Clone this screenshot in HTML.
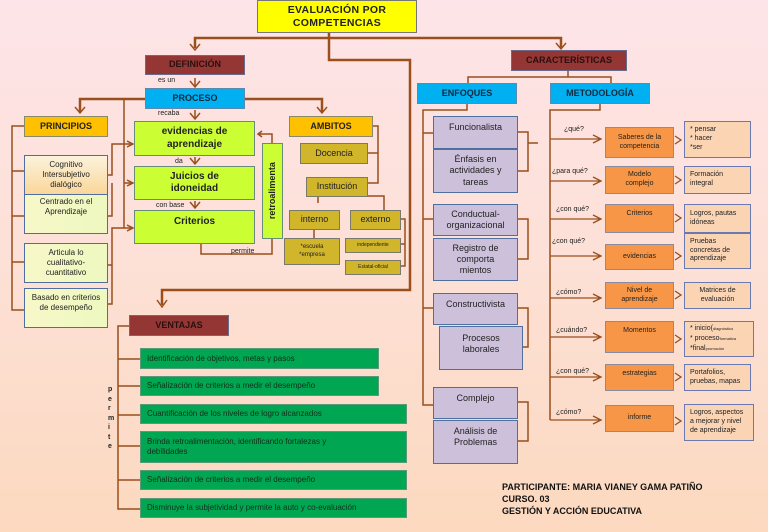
<!DOCTYPE html>
<html><head><meta charset="utf-8"><style>
*{margin:0;padding:0;box-sizing:border-box}
body{width:768px;height:532px;overflow:hidden;position:relative;background:linear-gradient(#fde4e8,#fde0d6 50%,#fcd9bf);font-family:"Liberation Sans",sans-serif;color:#222}
.b{position:absolute;display:flex;align-items:center;justify-content:center;text-align:center;line-height:1.25}
.t{position:absolute;font-size:7px;white-space:nowrap}
.dr{background:#943634;border:1px solid #6a6a8a;font-size:9px;font-weight:bold;color:#2a1010}
.bl{background:#00b0f0;border:1px solid #5a8ab0;font-size:9px;font-weight:bold;color:#102a40}
.yo{background:#ffc000;border:1px solid #8a8a6a;font-size:9px;font-weight:bold}
.li{background:#ccff33;border:1px solid #6a8a7a;font-size:10px;font-weight:bold}
.gd{background:#d1b52a;border:1px solid #7a7a6a;font-size:9px}
.pr{background:linear-gradient(90deg,#f7f8c8,#eef8c0);border:1px solid #4f6fa0;font-size:8px}
.lv{background:#ccc0da;border:1px solid #4f6fa0;font-size:9px}
.or{background:#f79646;border:1px solid #8a8aa0;font-size:7px;align-items:flex-start;padding-top:5px}
.pe{background:#fbd4b4;border:1px solid #6a7ab0;font-size:7px;justify-content:flex-start;text-align:left;padding-left:5px}
.gr{background:#00a651;border:1px solid #5a9a7a;font-size:8px;justify-content:flex-start;text-align:left;padding-left:6px;color:#10301a}
</style></head><body>
<svg width="768" height="532" style="position:absolute;left:0;top:0" fill="none">
<g stroke="#9a4f1c" stroke-width="2.5">
<path d="M195,48 V38 H420 M561,48 V38 H418"/>
<path d="M329,33 V60 H410 V290 H162 V305"/>
<path d="M145,99 H80 V112 M245,99 H322 V112"/>
</g>
<g stroke="#9a4f1c" stroke-width="1.5">
<path d="M190,44 L195,50 L200,44 M556,43 L561,49 L566,43 M157,300 L162,307 L167,300 M75,107 L80,113 L85,107 M317,107 L322,113 L327,107"/>
<path d="M195,78 V86 M190,81 L195,87 L200,81 M195,110 V119 M190,113 L195,119 L200,113 M195,157 V164 M190,158 L195,164 L200,158 M195,201 V208 M190,202 L195,208 L200,202"/>
<path d="M124,99 V228 M124,144 H132 M127,141 L133,144 L127,147 M124,183 H132 M127,180 L133,183 L127,186 M124,228 H132 M127,225 L133,228 L127,231"/>
<path d="M108,175 H112 V144 H124 M108,216 H112 V183 M108,265 H112 V228 H124 M108,304 H112 V228"/>
<path d="M24,126 H12 V310 H24 M12,171 H24 M12,216 H24 M12,262 H24"/>
<path d="M272,238 V254 H201 V243 M272,143 V134 H258 M262,131 L258,134 L262,137"/>
<path d="M372,126 H378 V183 H367 M378,153 H367 M318,196 V203 M339,196 H384 V210 M314,229 V238 M400,219 H405 V266 H400 M400,244 H405"/>
<path d="M129,326 H118 V509 H140 M118,359 H140 M118,386 H140 M118,415 H140 M118,446 H140 M118,480 H140"/>
<path d="M568,70 V77 M468,83 V77 H611 V83"/>
<path d="M467,103 V110 H423 V405 H433 M423,133 H433 M423,219 H433 M423,308 H433"/>
<path d="M517,132 H528 V171 H517 M528,143 H538 M517,219 H528 V259 H517 M517,308 H528 V347 H522 M517,402 H528 V441 H517"/>
<path d="M600,103 V110 H550 V420"/>
</g>
<g stroke="#9a4f1c" stroke-width="1.3">
<path d="M550,139 H600 M593,135 L601,139 L593,143 M550,181 H600 M593,177 L601,181 L593,185 M550,219 H600 M593,215 L601,219 L593,223 M550,256 H600 M593,252 L601,256 L593,260 M550,298 H600 M593,294 L601,298 L593,302 M550,337 H600 M593,333 L601,337 L593,341 M550,377 H600 M593,373 L601,377 L593,381 M550,420 H600 M593,416 L601,420 L593,424"/>
<path d="M675,136 L681,140 L675,144 M675,176 L681,180 L675,184 M675,214 L681,218 L675,222 M675,252 L681,256 L675,260 M675,291 L681,295 L675,299 M675,335 L681,339 L675,343 M675,373 L681,377 L675,381 M675,417 L681,421 L675,425"/>
</g>
</svg>
<div class="b" style="left:257px;top:0;width:160px;height:33px;background:#ffff00;border:1px solid #777;font-size:10.5px;font-weight:bold;line-height:1.15;letter-spacing:0.3px">EVALUACIÓN POR<br>COMPETENCIAS</div>
<div class="b dr" style="left:145px;top:55px;width:100px;height:20px">DEFINICIÓN</div>
<div class="t" style="left:158px;top:77px">es un</div>
<div class="b bl" style="left:145px;top:88px;width:100px;height:21px">PROCESO</div>
<div class="t" style="left:158px;top:110px">recaba</div>
<div class="b yo" style="left:24px;top:116px;width:84px;height:21px">PRINCIPIOS</div>
<div class="b yo" style="left:289px;top:116px;width:84px;height:21px">AMBITOS</div>
<div class="b li" style="left:134px;top:121px;width:121px;height:35px">evidencias de<br>aprendizaje</div>
<div class="t" style="left:175px;top:158px">da</div>
<div class="b li" style="left:134px;top:166px;width:121px;height:34px">Juicios de<br>idoneidad</div>
<div class="t" style="left:156px;top:202px">con base</div>
<div class="b li" style="left:134px;top:210px;width:121px;height:34px;align-items:flex-start;padding-top:5px">Criterios</div>
<div class="t" style="left:231px;top:248px">permite</div>
<div class="b li" style="left:262px;top:143px;width:21px;height:96px"><span style="transform:rotate(-90deg);white-space:nowrap;font-size:9px">retroalimenta</span></div>
<div class="b pr" style="left:24px;top:155px;width:84px;height:40px;background:linear-gradient(#fbf3dc,#fbd69a)">Cognitivo<br>Intersubjetivo<br>dialógico</div>
<div class="b pr" style="left:24px;top:194px;width:84px;height:40px;align-items:flex-start;padding-top:2px">Centrado en el<br>Aprendizaje</div>
<div class="b pr" style="left:24px;top:243px;width:84px;height:40px">Articula lo<br>cualitativo-<br>cuantitativo</div>
<div class="b pr" style="left:24px;top:288px;width:84px;height:40px;align-items:flex-start;padding-top:4px">Basado en criterios<br>de desempeño</div>
<div class="b gd" style="left:300px;top:143px;width:68px;height:21px">Docencia</div>
<div class="b gd" style="left:306px;top:177px;width:62px;height:20px">Institución</div>
<div class="b gd" style="left:289px;top:210px;width:51px;height:20px">interno</div>
<div class="b gd" style="left:350px;top:210px;width:51px;height:20px">externo</div>
<div class="b gd" style="left:284px;top:238px;width:56px;height:27px;font-size:6px">*escuela<br>*empresa</div>
<div class="b gd" style="left:345px;top:238px;width:56px;height:15px;font-size:5px">independiente</div>
<div class="b gd" style="left:345px;top:260px;width:56px;height:15px;font-size:5px">Estatal-oficial</div>
<div class="b dr" style="left:129px;top:315px;width:100px;height:21px">VENTAJAS</div>
<div class="t" style="left:108px;top:385px;font-size:7px;font-weight:bold;line-height:9.5px;white-space:normal;width:6px">p e r m i t e</div>
<div class="b gr" style="left:140px;top:348px;width:239px;height:21px">Identificación de objetivos, metas y pasos</div>
<div class="b gr" style="left:140px;top:376px;width:239px;height:20px">Señalización de criterios a medir el desempeño</div>
<div class="b gr" style="left:140px;top:404px;width:267px;height:20px">Cuantificación de los niveles de logro alcanzados</div>
<div class="b gr" style="left:140px;top:431px;width:267px;height:32px">Brinda retroalimentación, identificando fortalezas y<br>debilidades</div>
<div class="b gr" style="left:140px;top:470px;width:267px;height:20px">Señalización de criterios a medir el desempeño</div>
<div class="b gr" style="left:140px;top:498px;width:267px;height:20px">Disminuye la subjetividad y permite la auto y co-evaluación</div>
<div class="b dr" style="left:511px;top:50px;width:116px;height:21px">CARACTERÍSTICAS</div>
<div class="b bl" style="left:417px;top:83px;width:100px;height:21px">ENFOQUES</div>
<div class="b bl" style="left:550px;top:83px;width:100px;height:21px">METODOLOGÍA</div>
<div class="b lv" style="left:433px;top:116px;width:85px;height:33px;align-items:flex-start;padding-top:5px">Funcionalista</div>
<div class="b lv" style="left:433px;top:149px;width:85px;height:44px">Énfasis en<br>actividades y<br>tareas</div>
<div class="b lv" style="left:433px;top:204px;width:85px;height:32px">Conductual-<br>organizacional</div>
<div class="b lv" style="left:433px;top:238px;width:85px;height:43px">Registro de<br>comporta<br>mientos</div>
<div class="b lv" style="left:433px;top:293px;width:85px;height:32px;align-items:flex-start;padding-top:5px">Constructivista</div>
<div class="b lv" style="left:439px;top:326px;width:84px;height:44px;align-items:flex-start;padding-top:6px">Procesos<br>laborales</div>
<div class="b lv" style="left:433px;top:387px;width:85px;height:32px;align-items:flex-start;padding-top:5px">Complejo</div>
<div class="b lv" style="left:433px;top:420px;width:85px;height:44px;align-items:flex-start;padding-top:5px">Análisis de<br>Problemas</div>
<div class="t" style="left:564px;top:126px">¿qué?</div>
<div class="t" style="left:552px;top:168px">¿para qué?</div>
<div class="t" style="left:556px;top:206px">¿con qué?</div>
<div class="t" style="left:552px;top:238px">¿con qué?</div>
<div class="t" style="left:556px;top:289px">¿cómo?</div>
<div class="t" style="left:556px;top:327px">¿cuándo?</div>
<div class="t" style="left:556px;top:368px">¿con qué?</div>
<div class="t" style="left:556px;top:409px">¿cómo?</div>
<div class="b or" style="left:605px;top:127px;width:69px;height:31px;align-items:center;padding-top:0">Saberes de la<br>competencia</div>
<div class="b or" style="left:605px;top:166px;width:69px;height:28px;align-items:center;padding-top:0">Modelo<br>complejo</div>
<div class="b or" style="left:605px;top:204px;width:69px;height:29px">Criterios</div>
<div class="b or" style="left:605px;top:244px;width:69px;height:26px;align-items:center;padding-top:0">evidencias</div>
<div class="b or" style="left:605px;top:282px;width:69px;height:27px;align-items:center;padding-top:0">Nivel de<br>aprendizaje</div>
<div class="b or" style="left:605px;top:321px;width:69px;height:32px">Momentos</div>
<div class="b or" style="left:605px;top:364px;width:69px;height:27px">estrategias</div>
<div class="b or" style="left:605px;top:405px;width:69px;height:27px;align-items:center;padding-top:0">informe</div>
<div class="b pe" style="left:684px;top:121px;width:67px;height:37px;align-items:flex-start;padding-top:3px;line-height:1.3">* pensar<br>* hacer<br>*ser</div>
<div class="b pe" style="left:684px;top:166px;width:67px;height:28px">Formación<br>integral</div>
<div class="b pe" style="left:684px;top:204px;width:67px;height:29px">Logros, pautas<br>idóneas</div>
<div class="b pe" style="left:684px;top:233px;width:67px;height:36px">Pruebas<br>concretas de<br>aprendizaje</div>
<div class="b pe" style="left:684px;top:282px;width:67px;height:27px;justify-content:center;text-align:center;padding-left:0">Matrices de<br>evaluación</div>
<div style="position:absolute;left:684px;top:321px;width:70px;height:36px;background:#fbd4b4;border:1px solid #6a7ab0;font-size:7px;line-height:10px;padding:2px 0 0 5px;white-space:nowrap">* inicio(<span style="font-size:4px">diagnóstico</span><br>* proceso<span style="font-size:4px">formativa</span><br>*final<span style="font-size:4px">promoción</span></div>
<div class="b pe" style="left:684px;top:364px;width:67px;height:27px">Portafolios,<br>pruebas, mapas</div>
<div class="b pe" style="left:684px;top:404px;width:70px;height:37px">Logros, aspectos<br>a mejorar y nivel<br>de aprendizaje</div>
<div class="t" style="left:502px;top:481px;font-size:9px;font-weight:bold;line-height:12px;color:#111">PARTICIPANTE: MARIA VIANEY GAMA PATIÑO<br>CURSO. 03<br>GESTIÓN Y ACCIÓN EDUCATIVA</div>
</body></html>
